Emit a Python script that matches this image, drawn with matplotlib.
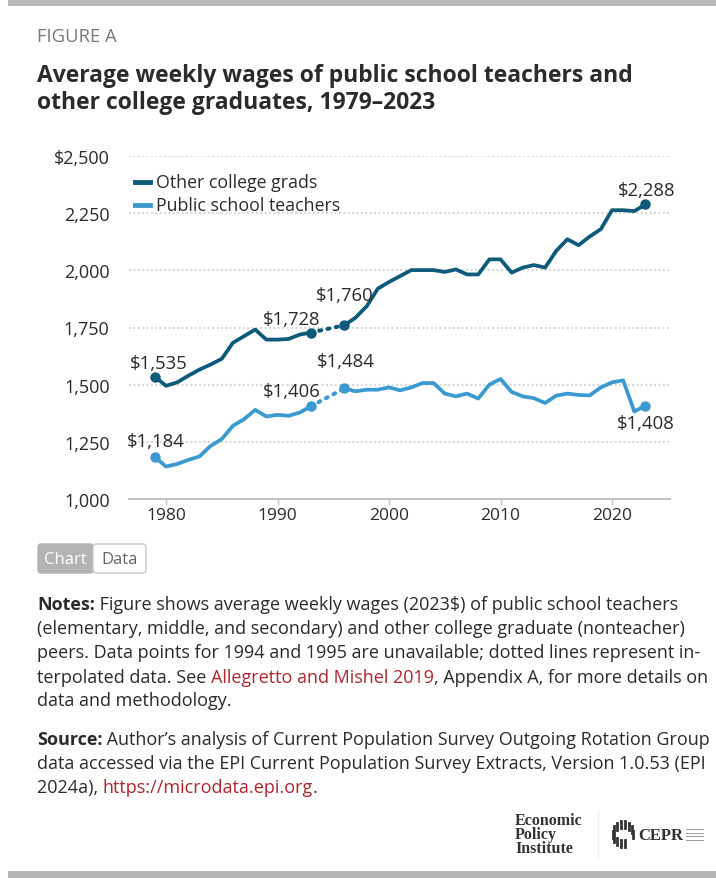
import numpy as np
import matplotlib.pyplot as plt
from matplotlib.patches import Rectangle, FancyBboxPatch

plt.rcParams['font.family'] = ['Open Sans', 'DejaVu Sans']

# data (2023$), 1994 and 1995 not available
years_a = list(range(1979, 1994))
years_b = list(range(1996, 2024))
college_a = [1535, 1495, 1510, 1539, 1566, 1588, 1613, 1683, 1712, 1741, 1697, 1697, 1700, 1719, 1728]
college_b = [1760, 1793, 1843, 1920, 1949, 1975, 2001, 2001, 2001, 1993, 2004, 1982, 1982, 2048,
             2048, 1990, 2012, 2023, 2012, 2085, 2136, 2110, 2148, 2180, 2263, 2263, 2259, 2288]
teach_a = [1184, 1142, 1153, 1171, 1186, 1232, 1262, 1320, 1349, 1390, 1361, 1368, 1364, 1378, 1406]
teach_b = [1484, 1471, 1478, 1478, 1488, 1475, 1488, 1507, 1507, 1461, 1449, 1461, 1439, 1500,
           1525, 1468, 1449, 1441, 1420, 1452, 1461, 1455, 1453, 1488, 1510, 1519, 1383, 1408]
series_names = ["Other college grads", "Public school teachers"]
yticks = [1000, 1250, 1500, 1750, 2000, 2250, 2500]
ytick_labels = ["1,000", "1,250", "1,500", "1,750", "2,000", "2,250", "$2,500"]
xticks = [1980, 1990, 2000, 2010, 2020]

DARK = "#0d5a7b"
LIGHT = "#3b9bd1"
TXT = "#2b2b2b"
RED = "#b0252f"
W, H = 716, 879

fig = plt.figure(figsize=(W / 100, H / 100), dpi=100)
renderer = fig.canvas.get_renderer()


def fx(x):
    return x / W


def fy(y):
    return 1 - y / H


def fit_size(txt, target_px, weight="normal", family=None):
    # font size so that txt spans target_px
    kw = {} if family is None else {"family": family}
    t = fig.text(0, 0, txt, fontsize=10, weight=weight, **kw)
    w = t.get_window_extent(renderer=renderer).width
    t.remove()
    return 10 * target_px / w


# grey bars top / bottom
fig.patches.append(Rectangle((fx(8), fy(7)), fx(708), 7 / H, transform=fig.transFigure,
                             color="#b7b7b7", lw=0))
fig.patches.append(Rectangle((fx(8), 0), fx(708), 7 / H, transform=fig.transFigure,
                             color="#b7b7b7", lw=0))

fig.text(fx(37), fy(37), "FIGURE A", fontsize=fit_size("FIGURE A", 80), color="#7a7a7a",
         va="center")
title1 = "Average weekly wages of public school teachers and"
tfs = fit_size(title1, 596, weight="bold")
fig.text(fx(37), fy(76), title1, fontsize=tfs, weight="bold", color=TXT, va="center")
fig.text(fx(37), fy(103), "other college graduates, 1979\u20132023",
         fontsize=tfs, weight="bold", color=TXT, va="center")

# main axes
ax = fig.add_axes([fx(129), fy(500), fx(670) - fx(129), (500 - 157) / H])
x0 = 1980 - (166 - 129) / 11.15
x1 = 1980 + (670 - 166) / 11.15
ax.set_xlim(x0, x1)
ax.set_ylim(1000, 2500)

for v in yticks[1:]:
    ax.axhline(v, color="#d9d9d9", lw=1.5, ls=(0, (1, 1.1)), dash_capstyle="butt", zorder=1)
for s in ["left", "right", "top"]:
    ax.spines[s].set_visible(False)
ax.spines["bottom"].set_color("#c4c4c4")
ax.spines["bottom"].set_linewidth(1.5)
ax.set_yticks(yticks)
ax.set_yticklabels(ytick_labels)
ax.set_xticks(xticks)
ax.set_xticklabels([str(x) for x in xticks])
ax.tick_params(axis="y", length=0, pad=14, labelsize=13, labelcolor=TXT)
ax.tick_params(axis="x", length=4, width=1, color="#c4c4c4", pad=2, labelsize=12.5, labelcolor=TXT)

for ya, va_, yb, vb, c in [(years_a, college_a, years_b, college_b, DARK),
                           (years_a, teach_a, years_b, teach_b, LIGHT)]:
    ax.plot(ya, va_, color=c, lw=2.7, solid_joinstyle="round", zorder=3)
    ax.plot(yb, vb, color=c, lw=2.7, solid_joinstyle="round", zorder=3)
    ax.plot([ya[-1], yb[0]], [va_[-1], vb[0]], color=c, lw=2.9, ls=(0, (0.5, 1.6)),
            dash_capstyle="round", zorder=3)
    ax.plot([ya[0], ya[-1], yb[0], yb[-1]], [va_[0], va_[-1], vb[0], vb[-1]], "o",
            color=c, ms=6.5, zorder=4, clip_on=False)

fs = 13.3
labels = [
    (years_a[0], college_a[0], 4, 14),
    (years_a[-1], college_a[-1], -19, 14),
    (years_b[0], college_b[0], 0, 30),
    (years_b[-1], college_b[-1], 1, 14),
    (years_a[0], teach_a[0], 1, 16),
    (years_a[-1], teach_a[-1], -19, 15),
    (years_b[0], teach_b[0], 1, 27),
    (years_b[-1], teach_b[-1], 0, -17),
]
for xv, yv, dx, dy in labels:
    ax.annotate(f"${yv:,}", (xv, yv), xytext=(dx, dy), textcoords="offset pixels",
                ha="center", va="center", fontsize=fs, color=TXT)

# legend
for i, (name, c) in enumerate(zip(series_names, [DARK, LIGHT])):
    yy = fy(183 + 23 * i)
    fig.lines.append(plt.Line2D([fx(135), fx(150)], [yy, yy], color=c, lw=3.5,
                                transform=fig.transFigure))
    fig.text(fx(156), yy, name, fontsize=12.8, color=TXT, va="center")

# Chart / Data toggle
fig.patches.append(FancyBboxPatch((fx(38), fy(574)), fx(55), 29 / H, transform=fig.transFigure,
                                  boxstyle="round,pad=0,rounding_size=0.004", fc="#b3b3b3",
                                  ec="#b3b3b3", lw=1))
fig.patches.append(FancyBboxPatch((fx(93), fy(574)), fx(53), 29 / H, transform=fig.transFigure,
                                  boxstyle="round,pad=0,rounding_size=0.004", fc="white",
                                  ec="#c8c8c8", lw=1))
fig.text(fx(65.5), fy(560), "Chart", fontsize=12, color="white", ha="center", va="center")
fig.text(fx(119.5), fy(560), "Data", fontsize=12, color="#666666", ha="center", va="center")

# notes / source with mixed runs
note_fs = fit_size("peers. Data points for 1994 and 1995 are unavailable; dotted lines represent in-", 668)


def draw_runs(y, runs):
    x = fx(37)
    for txt, wt, col in runs:
        t = fig.text(x, fy(y), txt, fontsize=note_fs, weight=wt, color=col, va="center")
        bb = t.get_window_extent(renderer=renderer)
        x += bb.width / W


lines = [
    (605, [("Notes:", "bold", TXT), (" Figure shows average weekly wages (2023$) of public school teachers", "normal", TXT)]),
    (629, [("(elementary, middle, and secondary) and other college graduate (nonteacher)", "normal", TXT)]),
    (653, [("peers. Data points for 1994 and 1995 are unavailable; dotted lines represent in-", "normal", TXT)]),
    (678, [("terpolated data. See ", "normal", TXT), ("Allegretto and Mishel 2019", "normal", RED),
           (", Appendix A, for more details on", "normal", TXT)]),
    (701, [("data and methodology.", "normal", TXT)]),
    (740, [("Source:", "bold", TXT), (" Author\u2019s analysis of Current Population Survey Outgoing Rotation Group", "normal", TXT)]),
    (764, [("data accessed via the EPI Current Population Survey Extracts, Version 1.0.53 (EPI", "normal", TXT)]),
    (788, [("2024a), ", "normal", TXT), ("https://microdata.epi.org", "normal", RED), (".", "normal", TXT)]),
]
for y, runs in lines:
    draw_runs(y, runs)

# logos
fig.text(fx(515), fy(835), "Economic\nPolicy\nInstitute", fontsize=11.5, weight="bold",
         family="Liberation Serif", color="#333333", va="center", ha="left", linespacing=0.82)
fig.lines.append(plt.Line2D([fx(598), fx(598)], [fy(812), fy(858)], color="#eeeeee", lw=1,
                            transform=fig.transFigure))
cx, cy, r = 623, 835, 10
for a in np.linspace(0, 2 * np.pi, 14, endpoint=False):
    if 0.2 < a < 0.9:
        continue
    px, py = cx + r * np.cos(a), cy + r * np.sin(a)
    fig.lines.append(plt.Line2D([fx(px), fx(px)], [fy(py - 3.5), fy(py + 3.5)], color="#333333",
                                lw=2, transform=fig.transFigure))
fig.text(fx(638), fy(836), "CEPR", fontsize=12, weight="bold", family="Liberation Serif",
         color="#333333", va="center")
for k in range(4):
    fig.lines.append(plt.Line2D([fx(686), fx(703)], [fy(830 + 3.5 * k), fy(830 + 3.5 * k)],
                                color="#999999", lw=0.7, transform=fig.transFigure))

fig.savefig("out.png", dpi=100)
